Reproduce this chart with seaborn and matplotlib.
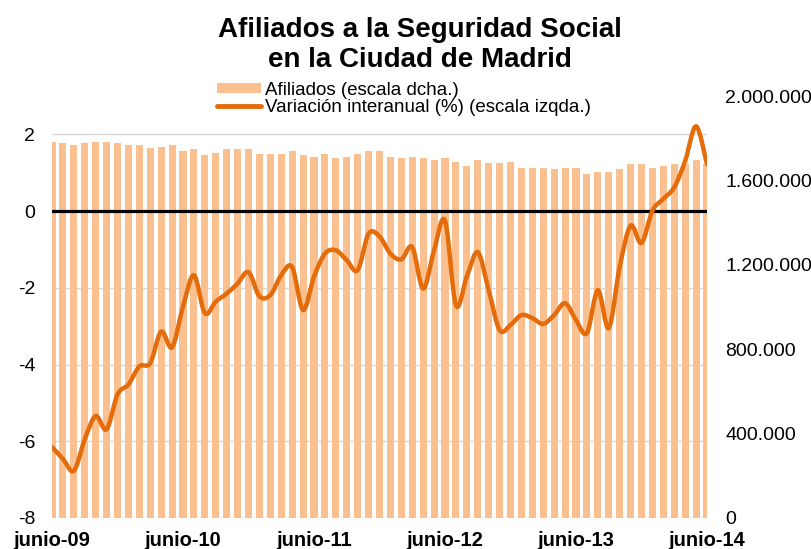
import numpy as np
import pandas as pd
import matplotlib
matplotlib.use("Agg")
import matplotlib.pyplot as plt
import seaborn as sns
from matplotlib.path import Path
from matplotlib.patches import PathPatch, Patch
from matplotlib.lines import Line2D
from matplotlib.ticker import FuncFormatter

# ---------------- data ----------------
months = list(range(61))  # junio-09 ... junio-14
tick_positions = [0, 12, 24, 36, 48, 60]
tick_labels = ["junio-09", "junio-10", "junio-11", "junio-12", "junio-13", "junio-14"]

afiliados = [1783000, 1776000, 1768000, 1776000, 1783000, 1783000, 1776000, 1768000, 1768000, 1752000,
             1760000, 1768000, 1739000, 1747000, 1720000, 1731000, 1747000, 1747000, 1747000, 1725000,
             1725000, 1725000, 1739000, 1720000, 1712000, 1725000, 1705000, 1712000, 1725000, 1739000,
             1739000, 1712000, 1705000, 1712000, 1705000, 1697000, 1705000, 1689000, 1668000, 1697000,
             1684000, 1684000, 1689000, 1660000, 1660000, 1660000, 1653000, 1660000, 1660000, 1630000,
             1638000, 1638000, 1653000, 1676000, 1676000, 1660000, 1668000, 1676000, 1676000, 1697000,
             1676000]

variacion = [-6.15, -6.46, -6.77, -5.95, -5.34, -5.69, -4.78, -4.52, -4.05, -3.96,
             -3.14, -3.55, -2.49, -1.67, -2.66, -2.36, -2.15, -1.89, -1.59, -2.22,
             -2.19, -1.67, -1.46, -2.58, -1.71, -1.11, -1.02, -1.28, -1.54, -0.59,
             -0.66, -1.11, -1.26, -0.94, -2.02, -1.02, -0.25, -2.45, -1.71, -1.07,
             -2.06, -3.10, -2.97, -2.71, -2.79, -2.94, -2.71, -2.40, -2.84, -3.18,
             -2.06, -3.05, -1.46, -0.38, -0.83, 0.01, 0.32, 0.62, 1.31, 2.21,
             1.22]

left_ticks = [-8, -6, -4, -2, 0, 2]
right_ticks = [0, 400000, 800000, 1200000, 1600000, 2000000]

title = "Afiliados a la Seguridad Social\nen la Ciudad de Madrid"
label_bars = "Afiliados (escala dcha.)"
label_line = "Variación interanual (%) (escala izqda.)"

BAR_COLOR = "#FAC090"
LINE_COLOR = "#E46C0A"

# ---------------- style ----------------
sns.set_theme(style="white")
plt.rcParams['font.family'] = ['Liberation Sans', 'DejaVu Sans']
plt.rcParams['axes.unicode_minus'] = False
plt.rcParams['text.color'] = 'black'
plt.rcParams['xtick.color'] = 'black'
plt.rcParams['ytick.color'] = 'black'
plt.rcParams['axes.labelcolor'] = 'black'

fig = plt.figure(figsize=(8.11, 5.49), dpi=100)
rect = [52 / 811, 1 - 518 / 549, 655 / 811, 422 / 549]
ax = fig.add_axes(rect)      # left scale: grid + tick labels
axb = ax.twinx()             # right scale: bars
axl = ax.twinx()             # left scale: zero line + curve

# bars
df = pd.DataFrame({"mes": months, "afiliados": afiliados})
sns.barplot(data=df, x="mes", y="afiliados", ax=axb, color=BAR_COLOR,
            saturation=1, width=0.65, errorbar=None, linewidth=0)

# smooth curve (Bezier through the monthly points)
P = np.column_stack([months, variacion]).astype(float)
n = len(P)
verts = [P[0]]
codes = [Path.MOVETO]
for i in range(n - 1):
    p_prev = P[i - 1] if i > 0 else P[i]
    p_next2 = P[i + 2] if i + 2 < n else P[i + 1]
    c1 = P[i] + (P[i + 1] - p_prev) / 6.0
    c2 = P[i + 1] - (p_next2 - P[i]) / 6.0
    verts += [c1, c2, P[i + 1]]
    codes += [Path.CURVE4] * 3
axl.axhline(0, color="black", lw=2.3, zorder=2)
axl.add_patch(PathPatch(Path(verts, codes), fill=False, edgecolor=LINE_COLOR,
                        lw=3.2, capstyle="round", joinstyle="round", zorder=3))

# axes limits / ticks
ax.set_xlim(0, 60)
ax.set_ylim(-8, 3)
axl.set_ylim(-8, 3)
axb.set_ylim(0, 2000000)

ax.set_xticks(tick_positions)
ax.set_xticklabels(tick_labels, fontsize=14.5, fontweight="bold", color="black")
ax.set_yticks(left_ticks)
ax.set_yticklabels([str(t) for t in left_ticks], fontsize=14, color="black")
ax.tick_params(axis="x", length=0, pad=9)
ax.tick_params(axis="y", length=0, pad=12)
ax.yaxis.grid(True, color="#d9d9d9", lw=1)
ax.xaxis.grid(False)

axb.set_yticks(right_ticks)
axb.yaxis.set_major_formatter(FuncFormatter(lambda v, p: f"{int(v):,}".replace(",", ".")))
axb.tick_params(axis="y", length=0, pad=13, labelsize=14, labelcolor="black")
axb.set_xlabel("")
axb.set_ylabel("")
axb.grid(False)

axl.yaxis.set_visible(False)
axl.grid(False)
for a in (ax, axb, axl):
    for s in a.spines.values():
        s.set_visible(False)
ax.set_xlabel("")
ax.set_ylabel("")

# title
fig.text(420 / 811, 1 - 45 / 549, title, ha="center", va="center",
         fontsize=20, fontweight="bold", linespacing=1.2, color="black")

# legend
handles = [Patch(facecolor=BAR_COLOR, edgecolor="none"),
           Line2D([], [], color=LINE_COLOR, lw=3.5)]
leg = fig.legend(handles, [label_bars, label_line], loc="center left",
                 bbox_to_anchor=(217 / 811, 1 - 99 / 549), frameon=False,
                 fontsize=13.5, handlelength=2.35, handletextpad=0.2,
                 borderpad=0, borderaxespad=0, labelspacing=0.0, handleheight=0.45)
for t in leg.get_texts():
    t.set_color("black")

fig.savefig("out.png", dpi=100)
